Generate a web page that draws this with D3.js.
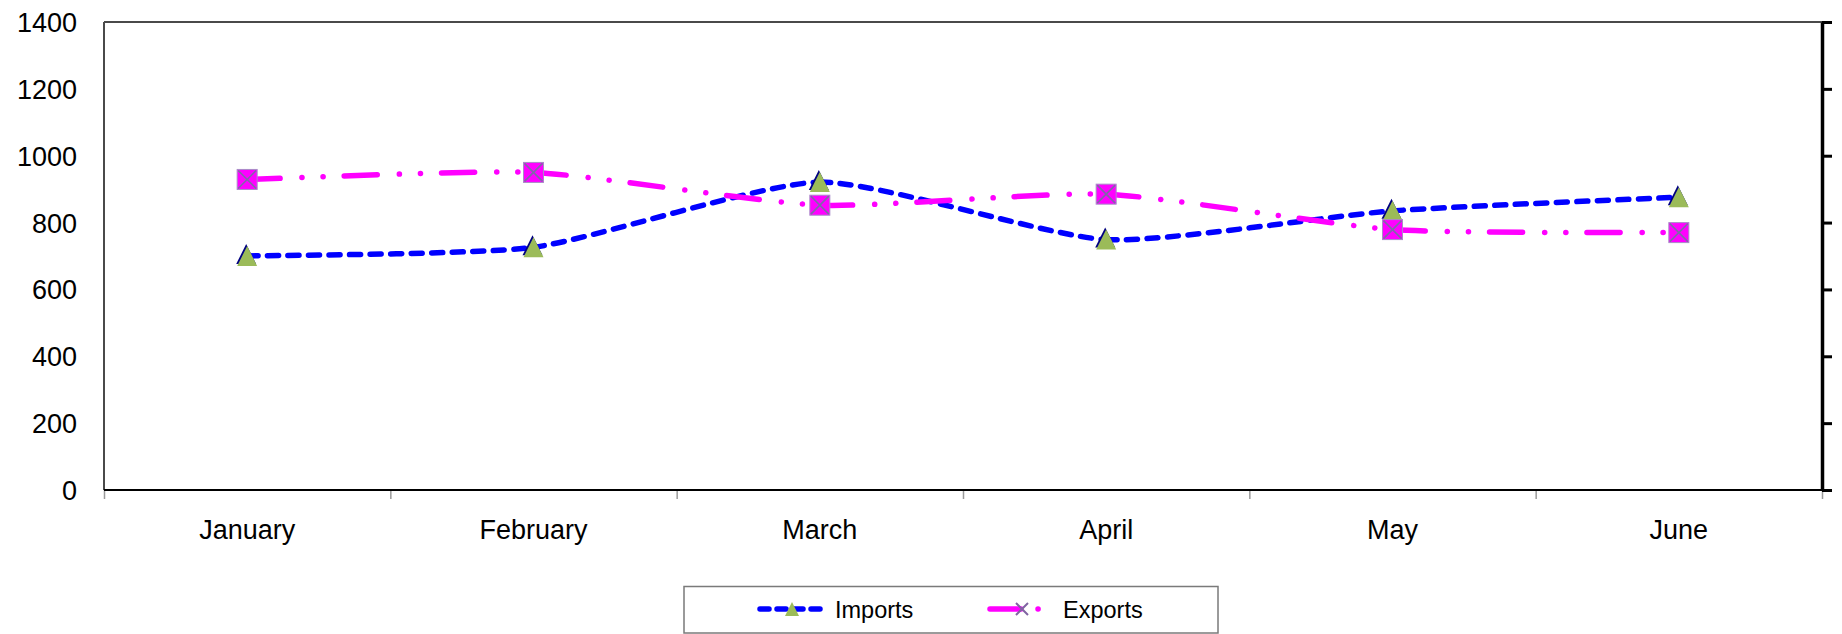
<!DOCTYPE html>
<html>
<head>
<meta charset="utf-8">
<script src="https://cdn.jsdelivr.net/npm/d3@7"></script>
<style>
  html, body { margin: 0; padding: 0; background: #ffffff; }
  svg { display: block; font-family: "Liberation Sans", Arial, sans-serif; }
</style>
</head>
<body>
<svg id="chart" width="1842" height="634"></svg>
<script>
// ---- data ----
const categories = ["January", "February", "March", "April", "May", "June"];
const importsValues = [700, 726, 921, 749, 835, 876];
const exportsValues = [929, 950, 852, 885, 779, 770];
const yTicks = [0, 200, 400, 600, 800, 1000, 1200, 1400];
const seriesNames = ["Imports", "Exports"];

(function () {
// ---- layout ----
const W = 1842, H = 634;
const pLeft = 104, pRight = 1822, pTop = 22, pBottom = 490;

const svg = d3.select("#chart");
svg.append("rect").attr("width", W).attr("height", H).attr("fill", "#fff");

const x = d3.scaleBand().domain(categories).range([pLeft, pRight]);
const cx = c => x(c) + x.bandwidth() / 2;
const y = d3.scaleLinear().domain([0, 1400]).range([pBottom, pTop]);
const xEdge = d3.scaleLinear().domain([0, categories.length]).range([pLeft, pRight]);

// plot frame
svg.append("line").attr("x1", pLeft).attr("x2", pRight).attr("y1", pTop).attr("y2", pTop)
  .attr("stroke", "#4a4a4a").attr("stroke-width", 2);
svg.append("line").attr("x1", pLeft).attr("x2", pLeft).attr("y1", pTop).attr("y2", pBottom)
  .attr("stroke", "#4a4a4a").attr("stroke-width", 2);

// left axis labels
const yAxis = svg.append("g").attr("transform", `translate(${pLeft},0)`)
  .call(d3.axisLeft(y).tickValues(yTicks).tickFormat(d3.format("d")).tickSize(0).tickPadding(27));
yAxis.select(".domain").remove();
yAxis.selectAll("text").attr("font-size", 27).attr("fill", "#000")
  .attr("font-family", "Liberation Sans, Arial, sans-serif").attr("dy", "0.35em");

// bottom boundary ticks
const xTickAxis = svg.append("g").attr("transform", `translate(0,${pBottom})`)
  .call(d3.axisBottom(xEdge).tickValues(d3.range(categories.length + 1)).tickSize(9).tickFormat(""));
xTickAxis.select(".domain").remove();
xTickAxis.selectAll("line").attr("stroke", "#9a9a9a").attr("stroke-width", 1.5);

// bottom category labels
const xAxis = svg.append("g").attr("transform", `translate(0,${pBottom})`)
  .call(d3.axisBottom(x).tickSize(0));
xAxis.select(".domain").remove();
xAxis.selectAll("text").attr("font-size", 27).attr("fill", "#000")
  .attr("font-family", "Liberation Sans, Arial, sans-serif")
  .attr("y", 49).attr("dy", 0);

// bottom axis line
svg.append("line").attr("x1", pLeft).attr("x2", pRight).attr("y1", pBottom).attr("y2", pBottom)
  .attr("stroke", "#000").attr("stroke-width", 2);

// right axis
const rAxis = svg.append("g").attr("transform", `translate(${pRight},0)`)
  .call(d3.axisRight(y).tickValues(yTicks).tickSize(10).tickFormat("").tickSizeOuter(0));
rAxis.select(".domain").attr("stroke", "#000").attr("stroke-width", 3.5);
rAxis.selectAll("line").attr("stroke", "#000").attr("stroke-width", 3);

// ---- gently smoothed segments (each segment drawn separately) ----
const smoothK = 1 / 10;
function segmentPaths(values) {
  const pts = categories.map((c, i) => [cx(c), y(values[i])]);
  const n = pts.length;
  const out = [];
  for (let i = 0; i < n - 1; i++) {
    const p0 = pts[Math.max(0, i - 1)], p1 = pts[i], p2 = pts[i + 1], p3 = pts[Math.min(n - 1, i + 2)];
    const c1 = [p1[0] + (p2[0] - p0[0]) * smoothK, p1[1] + (p2[1] - p0[1]) * smoothK];
    const c2 = [p2[0] - (p3[0] - p1[0]) * smoothK, p2[1] - (p3[1] - p1[1]) * smoothK];
    const p = d3.path();
    p.moveTo(p1[0], p1[1]);
    p.bezierCurveTo(c1[0], c1[1], c2[0], c2[1], p2[0], p2[1]);
    out.push(p.toString());
  }
  return out;
}

const triPath = s => `M0,${-s}L${s},${s}L${-s},${s}Z`;

// Imports series
const gImp = svg.append("g");
gImp.selectAll("path.seg").data(segmentPaths(importsValues)).join("path")
  .attr("class", "seg").attr("d", d => d).attr("fill", "none")
  .attr("stroke", "#0000ff").attr("stroke-width", 5.5)
  .attr("stroke-linecap", "round").attr("stroke-dasharray", "11 9.5");
const impM = gImp.selectAll("g.m").data(importsValues).join("g").attr("class", "m")
  .attr("transform", (d, i) => `translate(${cx(categories[i])},${y(d)})`);
impM.append("path").attr("d", triPath(10)).attr("transform", "translate(-1,-2)").attr("fill", "#000080");
impM.append("path").attr("d", triPath(10)).attr("fill", "#9bbb59");

// Exports series
const gExp = svg.append("g");
gExp.selectAll("path.seg").data(segmentPaths(exportsValues)).join("path")
  .attr("class", "seg").attr("d", d => d).attr("fill", "none")
  .attr("stroke", "#ff00ff").attr("stroke-width", 5.5)
  .attr("stroke-linecap", "round").attr("stroke-dasharray", "33 22 0.1 21 0.1 21");
const expM = gExp.selectAll("g.m").data(exportsValues).join("g").attr("class", "m")
  .attr("transform", (d, i) => `translate(${cx(categories[i])},${y(d)})`);
expM.append("rect").attr("x", -10).attr("y", -10).attr("width", 20).attr("height", 20)
  .attr("fill", "#ff00ff").attr("stroke", "#a98cc8").attr("stroke-width", 1);
expM.append("path").attr("d", "M-9,-9L9,9M9,-9L-9,9").attr("stroke", "#7d6aa8").attr("stroke-width", 1.6);

// ---- legend ----
const lg = svg.append("g");
lg.append("rect").attr("x", 684).attr("y", 586.5).attr("width", 534).attr("height", 46.5)
  .attr("fill", "#fff").attr("stroke", "#7a7a7a").attr("stroke-width", 1.5);
const legY = 609;
// Imports entry
lg.append("line").attr("x1", 760).attr("x2", 822).attr("y1", legY).attr("y2", legY)
  .attr("stroke", "#0000ff").attr("stroke-width", 5.5).attr("stroke-linecap", "round")
  .attr("stroke-dasharray", "9 8");
lg.append("path").attr("d", triPath(7)).attr("transform", `translate(792,${legY})`).attr("fill", "#9bbb59");
lg.append("text").attr("x", 835).attr("y", 618).attr("font-size", 23.5).attr("fill", "#000")
  .text(seriesNames[0]);
// Exports entry
lg.append("line").attr("x1", 990).attr("x2", 1040).attr("y1", legY).attr("y2", legY)
  .attr("stroke", "#ff00ff").attr("stroke-width", 5.5).attr("stroke-linecap", "round")
  .attr("stroke-dasharray", "31 17 0.1 40");
lg.append("path").attr("d", "M-6,-6L6,6M6,-6L-6,6").attr("transform", `translate(1022,${legY})`)
  .attr("stroke", "#8064a2").attr("stroke-width", 2);
lg.append("text").attr("x", 1063).attr("y", 618).attr("font-size", 23.5).attr("fill", "#000")
  .text(seriesNames[1]);
})();
</script>
</body>
</html>
